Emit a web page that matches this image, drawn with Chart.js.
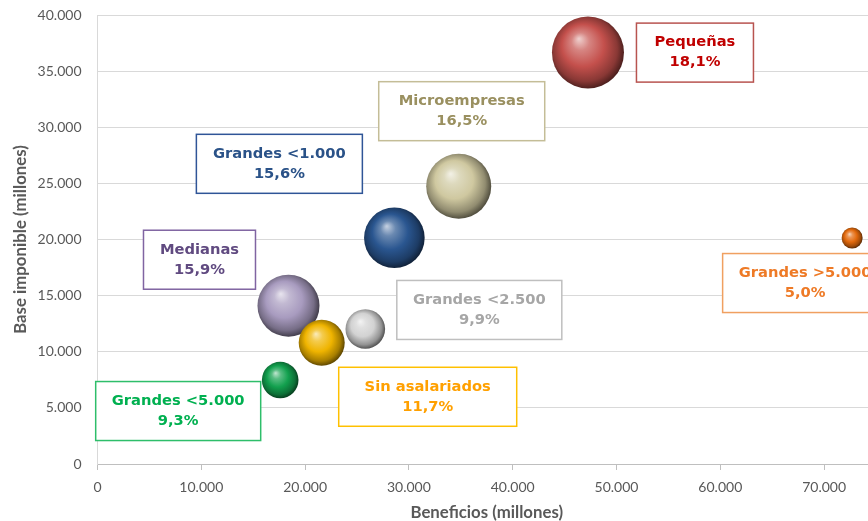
<!DOCTYPE html>
<html><head><meta charset="utf-8">
<script src="https://cdn.jsdelivr.net/npm/chart.js@4"></script>
<style>
html,body{margin:0;padding:0;overflow:hidden;background:#fff;width:868px;height:521px}
#wrap{position:absolute;left:0;top:0;width:890px;height:521px}
</style>
</head><body>
<div id="wrap"><canvas id="c" width="890" height="521"></canvas></div>
<script>
// ---- data ----
const categories = ['Pequeñas','Microempresas','Grandes <1.000','Medianas','Grandes <2.500','Sin asalariados','Grandes <5.000','Grandes >5.000'];
const beneficios = [47250, 34800, 28600, 18400, 25800, 21600, 17600, 72700];
const baseImponible = [36650, 24750, 20150, 14100, 12030, 10800, 7480, 20130];
const bubbleSize = [1296, 1056, 918, 961, 392, 529, 335, 110];
const percentages = ['18,1%','16,5%','15,6%','15,9%','9,9%','11,7%','9,3%','5,0%'];
const xTicks = [0,10000,20000,30000,40000,50000,60000,70000];
const yTicks = [0,5000,10000,15000,20000,25000,30000,35000,40000];

// ---- styles ----
const bubbleColors = ['#C4504C','#CFC8A0','#2A5690','#A89BBF','#D2D2D2','#EFB400','#12A04E','#E2690C'];
const textColors   = ['#C00000','#9A9060','#2A5288','#604A80','#A6A6A6','#FFA000','#00B050','#EE7A26'];
const borderColors = ['#B85450','#C4BD97','#2F5597','#8064A2','#BFBFBF','#FFC000','#2EBE6A','#F0A060'];
const labelOffsets = [[107,0],[3,-75],[-115,-74],[-89,-46],[114,-19],[106,54],[-102,31],[-47,45]];
const labelWidths  = [117,166,166,112,165,178,165,165];
const labelHeight = 59;

const fmt = v => String(v).replace(/\B(?=(\d{3})+(?!\d))/g, '.');

function shade(hex, amt){
  const n = parseInt(hex.slice(1),16);
  let r=(n>>16)&255, g=(n>>8)&255, b=n&255;
  if(amt>=0){ r+= (255-r)*amt; g+=(255-g)*amt; b+=(255-b)*amt; }
  else { r*=1+amt; g*=1+amt; b*=1+amt; }
  return `rgb(${Math.round(r)},${Math.round(g)},${Math.round(b)})`;
}

const spherePlugin = {
  id:'sphere',
  afterDatasetsDraw(chart){
    const ctx = chart.ctx;
    const meta = chart.getDatasetMeta(0);
    ctx.save();
    meta.data.forEach((el,i)=>{
      const x=el.x, y=el.y, r=el.options.radius;
      const c = bubbleColors[i];
      const g = ctx.createRadialGradient(x-r*0.25, y-r*0.38, r*0.02, x-r*0.05, y-r*0.05, r*1.05);
      g.addColorStop(0, shade(c,0.7));
      g.addColorStop(0.22, shade(c,0.3));
      g.addColorStop(0.55, c);
      g.addColorStop(0.85, shade(c,-0.3));
      g.addColorStop(1, shade(c,-0.6));
      ctx.beginPath();
      ctx.arc(x,y,r,0,Math.PI*2);
      ctx.fillStyle=g;
      ctx.fill();
    });
    ctx.restore();
  },
  afterDraw(chart){
    const ctx = chart.ctx;
    const meta = chart.getDatasetMeta(0);
    ctx.save();
    meta.data.forEach((el,i)=>{
      const cx = el.x + labelOffsets[i][0], cy = el.y + labelOffsets[i][1];
      const w = labelWidths[i], h = labelHeight;
      ctx.fillStyle='#fff';
      ctx.fillRect(cx-w/2, cy-h/2, w, h);
      ctx.lineWidth=1.5;
      ctx.strokeStyle=borderColors[i];
      ctx.strokeRect(cx-w/2, cy-h/2, w, h);
      ctx.fillStyle=textColors[i];
      ctx.font='bold 14.7px "DejaVu Sans"';
      ctx.textAlign='center';
      ctx.textBaseline='middle';
      ctx.fillText(categories[i], cx, cy-10);
      ctx.fillText(percentages[i], cx, cy+10);
    });
    ctx.restore();
  }
};

new Chart(document.getElementById('c'), {
  type:'bubble',
  data:{
    datasets:[{
      label:'Sectores',
      data: categories.map((c,i)=>({x:beneficios[i], y:baseImponible[i], r:Math.sqrt(bubbleSize[i])})),
      backgroundColor:'rgba(0,0,0,0)',
      borderWidth:0,
      hoverRadius:0
    }]
  },
  plugins:[spherePlugin],
  options:{
    responsive:false,
    animation:false,
    events:[],
    layout:{autoPadding:false, padding:{left:11, top:15, right:14, bottom:0}},
    plugins:{legend:{display:false}, tooltip:{enabled:false}},
    scales:{
      x:{
        type:'linear', min:0, max:75000,
        afterBuildTicks:s=>{ s.ticks = xTicks.map(v=>({value:v})); },
        afterFit:s=>{ s.height = 57; s.paddingLeft = 0; s.paddingRight = 0; },
        ticks:{callback:v=>fmt(v), color:'#595959', font:{family:'Lato', size:14}, padding:9, maxRotation:0, autoSkip:false},
        grid:{drawOnChartArea:false, drawTicks:true, tickLength:6, color:'#BFBFBF'},
        border:{display:true, color:'#BFBFBF'},
        title:{display:true, text:'Beneficios (millones)', color:'#595959', font:{family:'Lato', size:16.8, weight:'bold'}, padding:{top:0,bottom:-2}}
      },
      y:{
        type:'linear', min:0, max:40000,
        afterBuildTicks:s=>{ s.ticks = yTicks.map(v=>({value:v})); },
        afterFit:s=>{ s.width = 86.5; s.paddingTop = 0; s.paddingBottom = 0; },
        ticks:{callback:v=>fmt(v), color:'#595959', font:{family:'Lato', size:14}, padding:16},
        grid:{color:'#D9D9D9', drawTicks:false},
        border:{display:true, color:'#D9D9D9'},
        title:{display:true, text:'Base imponible (millones)', color:'#595959', font:{family:'Lato', size:16.8, weight:'bold'}, padding:{top:0,bottom:0}}
      }
    }
  }
});
</script>
</body></html>
